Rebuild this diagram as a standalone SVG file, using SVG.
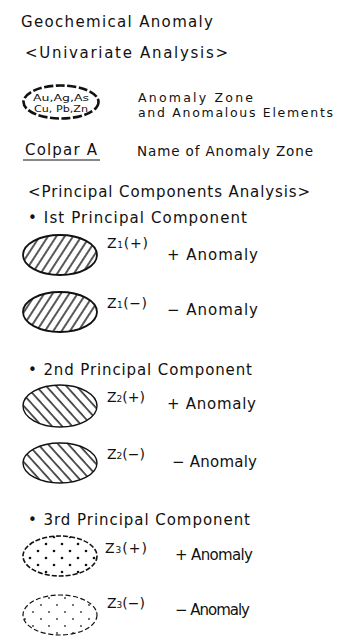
<svg xmlns="http://www.w3.org/2000/svg" width="350" height="638" viewBox="0 0 350 638">
<style>
text{font-family:"DejaVu Sans","Liberation Sans",Arial,sans-serif;fill:#111;}
.t{font-size:15px;}
.s{font-size:13.5px;}
.s2{font-size:12.5px;}
.e{font-size:9.5px;}
.z{font-size:14px;}
.sub{font-size:9px;}
</style>
<defs>
<pattern id="hf" width="7" height="10" patternUnits="userSpaceOnUse" patternTransform="rotate(33)">
<rect width="7" height="10" fill="#fff"/>
<line x1="1" y1="0" x2="1" y2="10" stroke="#111" stroke-width="1.4"/>
</pattern>
<pattern id="hb" width="7.5" height="10" patternUnits="userSpaceOnUse" patternTransform="rotate(-42)">
<rect width="7.5" height="10" fill="#fff"/>
<line x1="1" y1="0" x2="1" y2="10" stroke="#111" stroke-width="1.4"/>
</pattern>
<pattern id="d1" width="16" height="14" patternUnits="userSpaceOnUse" x="3" y="2">
<rect width="16" height="14" fill="#fff"/>
<circle cx="3" cy="3" r="1.3" fill="#111"/>
<circle cx="11" cy="10" r="1.3" fill="#111"/>
</pattern>
<pattern id="d2" width="16" height="14" patternUnits="userSpaceOnUse" x="6" y="0">
<rect width="16" height="14" fill="#fff"/>
<circle cx="3" cy="3" r="0.9" fill="#333"/>
<circle cx="11" cy="10" r="0.9" fill="#333"/>
</pattern>
</defs>

<g id="title">
<text class="t" x="21" y="27" textLength="192" lengthAdjust="spacing">Geochemical  Anomaly</text>
</g>

<g id="univariate-heading">
<text class="t" x="25" y="58" textLength="203" lengthAdjust="spacing">&lt;Univariate  Analysis&gt;</text>
</g>

<g id="anomaly-zone-symbol">
<ellipse cx="61" cy="102" rx="37.5" ry="16.5" fill="#fff" stroke="#111" stroke-width="2.6" stroke-dasharray="9 2.5"/>
<text class="e" x="33" y="101" textLength="56" lengthAdjust="spacingAndGlyphs">Au,Ag,As</text>
<text class="e" x="34" y="112" textLength="54" lengthAdjust="spacingAndGlyphs">Cu, Pb,Zn</text>
<text class="s2" x="138" y="102" textLength="115" lengthAdjust="spacing">Anomaly  Zone</text>
<text class="s2" x="138" y="117" textLength="195" lengthAdjust="spacing">and  Anomalous  Elements</text>
</g>

<g id="zone-name">
<text class="t" x="25" y="155" textLength="72" lengthAdjust="spacing">Colpar A</text>
<line x1="23" y1="160" x2="100" y2="160" stroke="#111" stroke-width="1"/>
<text class="s" x="137" y="156" textLength="176" lengthAdjust="spacing">Name  of  Anomaly  Zone</text>
</g>

<g id="pca-heading">
<text class="t" x="28" y="197" textLength="282" lengthAdjust="spacing">&lt;Principal  Components  Analysis&gt;</text>
</g>

<g id="pc1">
<text class="t" x="28" y="223" textLength="219" lengthAdjust="spacing">• Ist  Principal  Component</text>
</g>
<g id="pc1-plus">
<ellipse cx="60" cy="255" rx="37" ry="20" fill="url(#hf)" stroke="#111" stroke-width="1.8"/>
<text class="z" x="107" y="248" textLength="41" lengthAdjust="spacing">Z<tspan class="sub">1</tspan>(+)</text>
<text class="t" x="167" y="260" textLength="91" lengthAdjust="spacing">+  Anomaly</text>
</g>
<g id="pc1-minus">
<ellipse cx="60" cy="312" rx="37" ry="20" fill="url(#hf)" stroke="#111" stroke-width="1.8"/>
<text class="z" x="107" y="308" textLength="40" lengthAdjust="spacing">Z<tspan class="sub">1</tspan>(−)</text>
<text class="t" x="167" y="315" textLength="91" lengthAdjust="spacing">−  Anomaly</text>
</g>

<g id="pc2">
<text class="t" x="28" y="375" textLength="224" lengthAdjust="spacing">• 2nd  Principal  Component</text>
</g>
<g id="pc2-plus">
<ellipse cx="60" cy="406" rx="37" ry="21" fill="url(#hb)" stroke="#111" stroke-width="1.4"/>
<text class="z" x="107" y="402" textLength="38" lengthAdjust="spacing">Z<tspan class="sub">2</tspan>(+)</text>
<text class="t" x="167" y="409" textLength="89" lengthAdjust="spacing">+  Anomaly</text>
</g>
<g id="pc2-minus">
<ellipse cx="60" cy="463" rx="37" ry="20" fill="url(#hb)" stroke="#111" stroke-width="1.4"/>
<text class="z" x="107" y="459" textLength="38" lengthAdjust="spacing">Z<tspan class="sub">2</tspan>(−)</text>
<text class="t" x="172" y="467" textLength="85" lengthAdjust="spacing">−  Anomaly</text>
</g>

<g id="pc3">
<text class="t" x="28" y="525" textLength="222" lengthAdjust="spacing">• 3rd  Principal  Component</text>
</g>
<g id="pc3-plus">
<ellipse cx="60" cy="556" rx="37" ry="20" fill="url(#d1)" stroke="#111" stroke-width="1.6" stroke-dasharray="5 2"/>
<text class="z" x="105" y="553" textLength="42" lengthAdjust="spacing">Z<tspan class="sub">3</tspan>(+)</text>
<text class="t" x="175" y="560" textLength="78" lengthAdjust="spacing">+  Anomaly</text>
</g>
<g id="pc3-minus">
<ellipse cx="60" cy="615" rx="37" ry="20" fill="url(#d2)" stroke="#111" stroke-width="1.2" stroke-dasharray="5 2.5"/>
<text class="z" x="107" y="608" textLength="38" lengthAdjust="spacing">Z<tspan class="sub">3</tspan>(−)</text>
<text class="t" x="175" y="615" textLength="75" lengthAdjust="spacing">−  Anomaly</text>
</g>
</svg>
